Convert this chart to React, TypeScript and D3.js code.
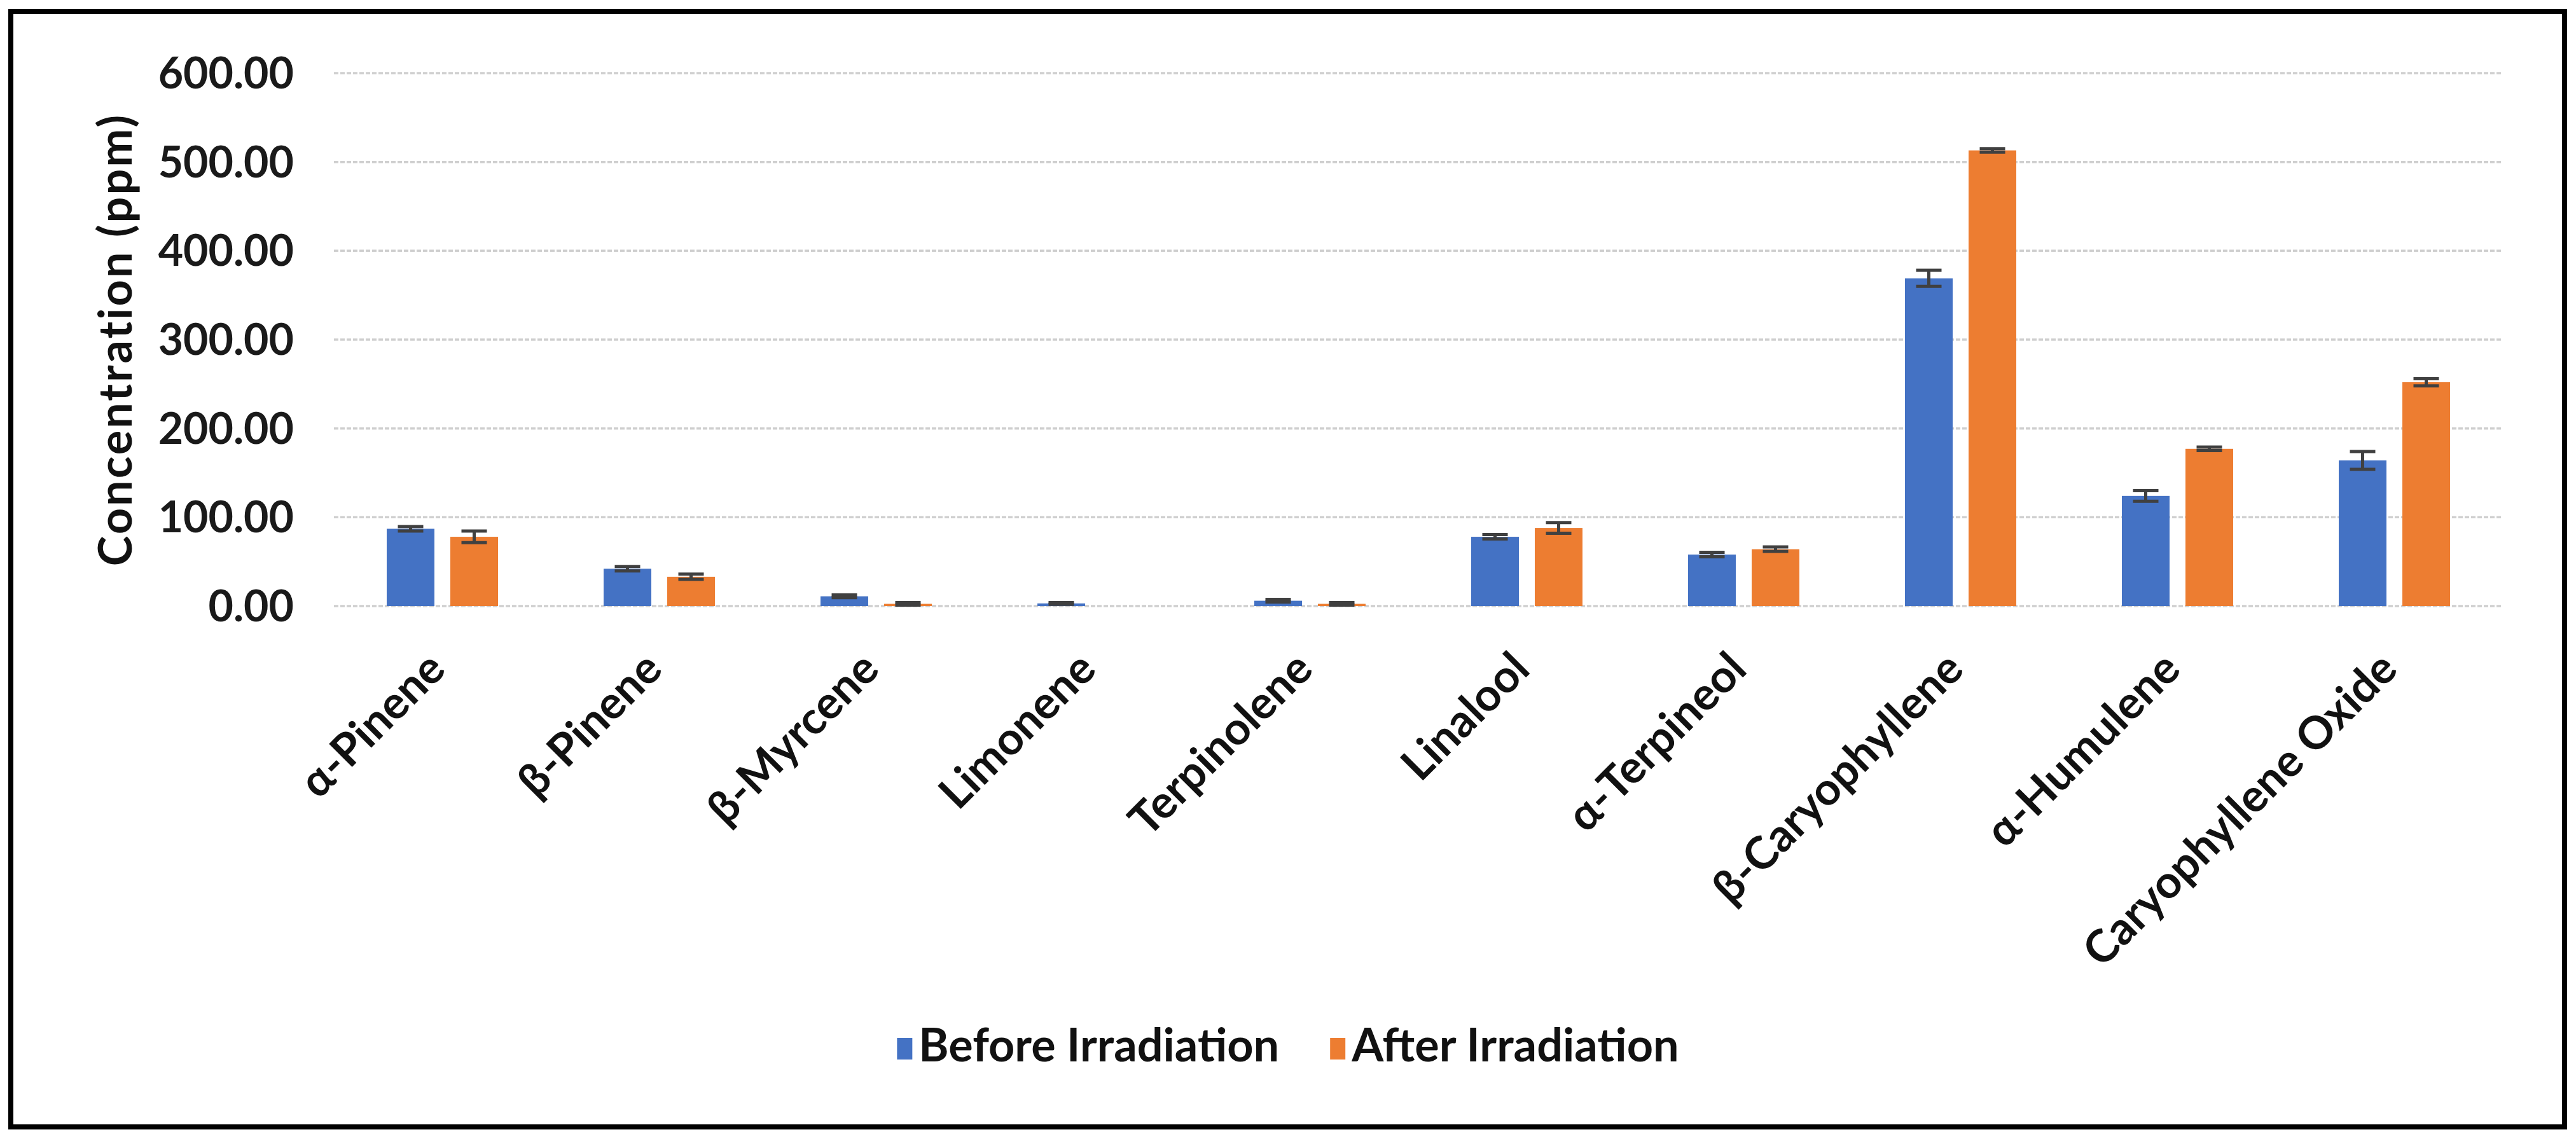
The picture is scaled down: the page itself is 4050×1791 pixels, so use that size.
import React, { useEffect, useRef } from 'react';
import * as d3 from 'd3';

const categories = [
  'α-Pinene', 'β-Pinene', 'β-Myrcene', 'Limonene', 'Terpinolene',
  'Linalool', 'α-Terpineol', 'β-Caryophyllene', 'α-Humulene', 'Caryophyllene Oxide',
];
const seriesNames = ['Before Irradiation', 'After Irradiation'];
const beforeValues = [87, 42, 11, 3, 6, 78, 58, 369, 124, 164];
const beforeErrors = [2.5, 2.5, 1.5, 1, 1.5, 2.5, 2.5, 9, 6, 10];
const afterValues = [78, 33, 2.5, 0, 2.5, 88, 64, 513, 177, 252];
const afterErrors = [6.5, 3, 1.5, 0, 1.5, 6, 2.5, 2, 2, 4];
const yTicks = [0, 100, 200, 300, 400, 500, 600];
const seriesColors = ['#4472C4', '#ED7D31'];

const WIDTH = 4050;
const HEIGHT = 1791;
const FONT = "Lato, 'Open Sans', sans-serif";

const App: React.FC = () => {
  const svgRef = useRef<SVGSVGElement | null>(null);

  useEffect(() => {
    if (!svgRef.current) return;
    document.body.style.margin = '0';

    const svg = d3.select(svgRef.current)
      .attr('width', WIDTH)
      .attr('height', HEIGHT)
      .style('background-color', 'white');
    svg.selectAll('*').remove();

    const plot = { left: 525, right: 3935, top: 115, bottom: 953 };

    const x = d3.scaleBand<string>()
      .domain(categories)
      .range([plot.left, plot.right])
      .padding(0);
    const groupWidth = 175;
    const xInner = d3.scaleBand<number>()
      .domain([0, 1])
      .range([0, groupWidth])
      .paddingInner(0.25)
      .paddingOuter(0);
    const y = d3.scaleLinear().domain([0, 600]).range([plot.bottom, plot.top]);

    // frame
    svg.append('rect')
      .attr('x', 18).attr('y', 18)
      .attr('width', WIDTH - 36).attr('height', HEIGHT - 36)
      .attr('fill', 'none')
      .attr('stroke', '#d9d9d9')
      .attr('stroke-width', 3);
    svg.append('rect')
      .attr('x', 17).attr('y', 18)
      .attr('width', 4015).attr('height', 1754)
      .attr('fill', 'none')
      .attr('stroke', '#000')
      .attr('stroke-width', 8);

    // gridlines
    svg.append('g')
      .selectAll('line')
      .data(yTicks)
      .enter().append('line')
        .attr('x1', plot.left)
        .attr('x2', plot.right)
        .attr('y1', d => y(d))
        .attr('y2', d => y(d))
        .attr('stroke', '#cfcfcf')
        .attr('stroke-width', 3.5)
        .attr('stroke-dasharray', '7,3');

    // y tick labels
    svg.append('g')
      .selectAll('text')
      .data(yTicks)
      .enter().append('text')
        .attr('x', 462)
        .attr('y', d => y(d) + 24)
        .attr('text-anchor', 'end')
        .style('font-family', FONT)
        .style('font-weight', 700)
        .style('font-size', '68px')
        .style('fill', '#1a1a1a')
        .text(d => d3.format('.2f')(d));

    // y axis title
    svg.append('text')
      .attr('transform', `translate(207,${(plot.top + plot.bottom) / 2}) rotate(-90)`)
      .attr('text-anchor', 'middle')
      .style('font-family', FONT)
      .style('font-weight', 700)
      .style('font-size', '72px')
      .style('letter-spacing', '3px')
      .style('fill', '#111')
      .text('Concentration (ppm)');

    const series = [
      { values: beforeValues, errors: beforeErrors },
      { values: afterValues, errors: afterErrors },
    ];

    const groups = svg.append('g')
      .selectAll('g')
      .data(categories)
      .enter().append('g')
        .attr('transform', d => `translate(${(x(d) as number) + (x.bandwidth() - groupWidth) / 2},0)`);

    series.forEach((s, si) => {
      groups.append('rect')
        .attr('x', xInner(si) as number)
        .attr('width', xInner.bandwidth())
        .attr('y', (_d, i) => y(s.values[i]))
        .attr('height', (_d, i) => y(0) - y(s.values[i]))
        .attr('fill', seriesColors[si]);

      // error bars: whisker + two caps
      const cx = (xInner(si) as number) + xInner.bandwidth() / 2;
      const capHalf = 20;
      const idx = (el: any) => categories.indexOf(d3.select(el.parentNode).datum() as string);
      const err = groups.filter((_d, i) => s.values[i] > 0)
        .append('g')
        .attr('stroke', '#404040')
        .attr('stroke-width', 5);
      err.append('line')
        .attr('x1', cx).attr('x2', cx)
        .attr('y1', function () { const i = idx(this); return y(s.values[i] + s.errors[i]); })
        .attr('y2', function () { const i = idx(this); return y(Math.max(0, s.values[i] - s.errors[i])); });
      [1, -1].forEach(sign => {
        err.append('line')
          .attr('x1', cx - capHalf).attr('x2', cx + capHalf)
          .attr('y1', function () { const i = idx(this); return y(Math.max(0, s.values[i] + sign * s.errors[i])); })
          .attr('y2', function () { const i = idx(this); return y(Math.max(0, s.values[i] + sign * s.errors[i])); });
      });
    });

    // category labels
    svg.append('g')
      .selectAll('text')
      .data(categories)
      .enter().append('text')
        .attr('transform', d => `translate(${(x(d) as number) + x.bandwidth() / 2 + 8},1056) rotate(-45)`)
        .attr('text-anchor', 'end')
        .style('font-family', FONT)
        .style('font-weight', 700)
        .style('font-size', '71px')
        .style('fill', '#111')
        .text(d => d);

    // legend
    const swatchW = 24;
    const swatchH = 34;
    const swatchGap = 34;
    const itemGap = 80;
    const legend = svg.append('g');
    const items = legend.selectAll('g')
      .data(seriesNames)
      .enter().append('g');
    items.append('rect')
      .attr('width', swatchW).attr('height', swatchH)
      .attr('y', 1632)
      .attr('fill', (_d, i) => seriesColors[i]);
    const labels = items.append('text')
      .attr('y', 1669)
      .style('font-family', FONT)
      .style('font-weight', 700)
      .style('font-size', '72px')
      .style('fill', '#111')
      .text(d => d);
    const widths: number[] = [];
    labels.each(function () { widths.push((this as SVGTextElement).getComputedTextLength()); });
    const total = widths.reduce((a, w) => a + swatchGap + w, 0) + itemGap;
    let cursor = WIDTH / 2 - total / 2;
    items.each(function (_d, i) {
      const g = d3.select(this);
      g.select('rect').attr('x', cursor);
      g.select('text').attr('x', cursor + swatchGap);
      cursor += swatchGap + widths[i] + itemGap;
    });
  }, []);

  return (
    <div style={{ position: 'absolute', left: 0, top: 0 }}>
      <svg ref={svgRef}></svg>
    </div>
  );
};

export default App;
